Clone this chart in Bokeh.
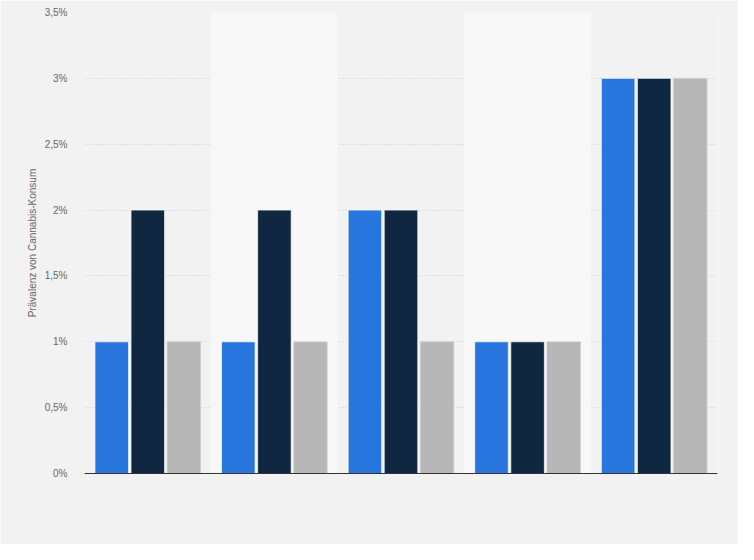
from bokeh.plotting import figure
from bokeh.models import ColumnDataSource, FixedTicker, BoxAnnotation, Range1d
from bokeh.transform import dodge
from bokeh.embed import file_html
from bokeh.resources import INLINE

groups = [0, 1, 2, 3, 4]
series_a = [1, 1, 2, 1, 3]
series_b = [2, 2, 2, 1, 3]
series_c = [1, 1, 1, 1, 3]
colors = ["#2876dd", "#0f2740", "#b7b7b7"]
y_ticks = [0, 0.5, 1, 1.5, 2, 2.5, 3, 3.5]
y_tick_labels = ["0%", "0,5%", "1%", "1,5%", "2%", "2,5%", "3%", "3,5%"]
y_label = "Prävalenz von Cannabis-Konsum"

src = ColumnDataSource(dict(g=groups, a=series_a, b=series_b, c=series_c))

p = figure(width=738, height=544, output_backend="svg", toolbar_location=None,
           x_range=Range1d(-0.5, 4.5), y_range=Range1d(0, 3.5),
           min_border_left=84, min_border_right=21, min_border_top=12, min_border_bottom=71)
p.background_fill_color = "#f2f2f2"
p.border_fill_color = "#f2f2f2"
p.outline_line_color = None

for g in groups:
    if g % 2 == 1:
        p.add_layout(BoxAnnotation(left=g - 0.5, right=g + 0.5, bottom=0, top=3.5,
                                   fill_color="#f8f8f8", fill_alpha=1, line_color=None, level="underlay"))

bw = 0.265
offs = [-0.285, 0.0, 0.285]
for col, off, c in zip(["a", "b", "c"], offs, colors):
    p.vbar(x=dodge("g", off, range=p.x_range), top=col, width=bw, source=src,
           fill_color=c, line_color="#ffffff" if c != "#b7b7b7" else "#d2d2d2", line_alpha=0.7, line_width=1)

p.xgrid.grid_line_color = None
p.ygrid.grid_line_color = "#cccccc"
p.ygrid.grid_line_dash = "1 2"
p.ygrid.grid_line_width = 1

p.yaxis.ticker = FixedTicker(ticks=y_ticks)
p.yaxis.major_label_overrides = {t: l for t, l in zip(y_ticks, y_tick_labels)}
p.yaxis.axis_line_color = None
p.yaxis.major_tick_line_color = None
p.yaxis.minor_tick_line_color = None
p.yaxis.major_tick_out = 0
p.yaxis.major_tick_in = 0
p.yaxis.major_label_standoff = 17
p.yaxis.major_label_text_font = "Liberation Sans"
p.yaxis.major_label_text_font_size = "10px"
p.yaxis.major_label_text_color = "#666666"
p.yaxis.axis_label = y_label
p.yaxis.axis_label_text_font = "Liberation Sans"
p.yaxis.axis_label_text_font_size = "10px"
p.yaxis.axis_label_text_font_style = "normal"
p.yaxis.axis_label_text_color = "#666666"
p.yaxis.axis_label_standoff = 4

p.xaxis.ticker = FixedTicker(ticks=[])
p.xaxis.major_tick_line_color = None
p.xaxis.minor_tick_line_color = None
p.xaxis.major_tick_out = 0
p.xaxis.axis_line_color = "#333333"
p.xaxis.axis_line_width = 1

html = file_html(p, INLINE)
html = html.replace("<body>", '<body style="background:#f2f2f2">', 1)
open("out.html", "w").write(html)
